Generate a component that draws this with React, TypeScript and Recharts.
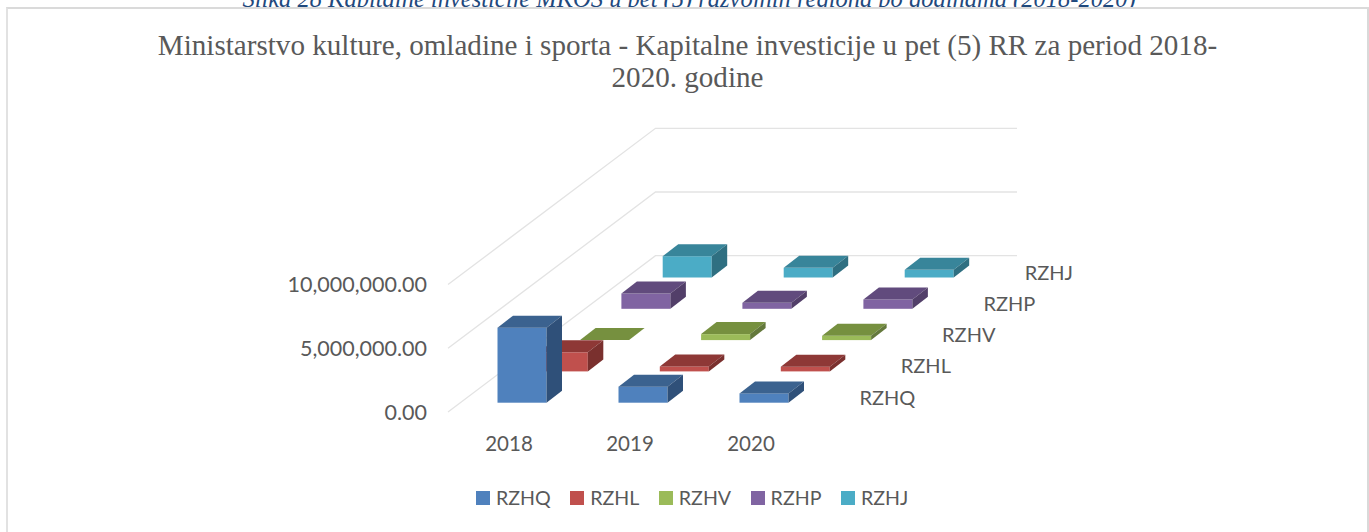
import { BarChart, Bar, XAxis, YAxis, CartesianGrid, Legend } from 'recharts';

const years = ['2018', '2019', '2020'];
const seriesNames = ['RZHQ', 'RZHL', 'RZHV', 'RZHP', 'RZHJ'];
const rzhq = [5890000, 1260000, 730000];
const rzhl = [1500000, 390000, 370000];
const rzhv = [0, 470000, 340000];
const rzhp = [1200000, 470000, 730000];
const rzhj = [1670000, 760000, 600000];
const valueTicks = [0, 5000000, 10000000];

const seriesValues = [rzhq, rzhl, rzhv, rzhp, rzhj];
const frontColors = ['#4F81BD', '#C0504D', '#9BBB59', '#8064A2', '#4BACC6'];
const topColors = ['#3B628F', '#8E3836', '#76903F', '#614B7D', '#38859A'];
const sideColors = ['#2F5079', '#7A302E', '#64793C', '#523F69', '#2F6F81'];

const chartData = years.map((year, i) => {
  const row: Record<string, string | number> = { year };
  seriesNames.forEach((name, s) => {
    row[name] = seriesValues[s][i];
  });
  return row;
});

const FONT = 'Lato, sans-serif';
const TEXT_COLOR = '#595959';
const BAR_W = 49;
// depth step between series, and depth of one box
const STEP_X = 41.3;
const STEP_Y = 31.3;
const DEPTH_X = 15.5;
const DEPTH_Y = 12;

function Box(props: any, s: number) {
  const { x, y, width, height, index } = props;
  const left = x + STEP_X * s;
  const top = y - STEP_Y * s;
  const right = left + width;
  const bottom = top + height;
  return (
    <g>
      {height > 0 && <rect x={left} y={top} width={width} height={height} fill={frontColors[s]} />}
      <polygon
        points={`${left},${top} ${left + DEPTH_X},${top - DEPTH_Y} ${right + DEPTH_X},${top - DEPTH_Y} ${right},${top}`}
        fill={topColors[s]}
      />
      <polygon
        points={`${right},${top} ${right + DEPTH_X},${top - DEPTH_Y} ${right + DEPTH_X},${bottom - DEPTH_Y} ${right},${bottom}`}
        fill={sideColors[s]}
      />
      {index === years.length - 1 && (
        <text x={left + 120} y={bottom - 5} dy={7} fontFamily={FONT} fontSize={20} fill={TEXT_COLOR}>
          {seriesNames[s]}
        </text>
      )}
    </g>
  );
}

function wallLine(props: any) {
  const { y1, key } = props;
  return (
    <polyline
      key={key}
      points={`448,${y1 + 9.3} 655.5,${y1 - 147} 1017,${y1 - 147}`}
      fill="none"
      stroke="#E3E3E3"
      strokeWidth={1.3}
    />
  );
}

function ValueTick(props: any) {
  const { y, payload } = props;
  const label = payload.value.toLocaleString('en-US', { minimumFractionDigits: 2 });
  return (
    <text x={427} y={y + 9.3} dy={7.5} textAnchor="end" fontFamily={FONT} fontSize={21.5} fill={TEXT_COLOR}>
      {label}
    </text>
  );
}

function YearTick(props: any) {
  const { x, y, payload } = props;
  return (
    <text x={x - 13} y={y} dy={7} textAnchor="middle" fontFamily={FONT} fontSize={20.5} fill={TEXT_COLOR}>
      {payload.value}
    </text>
  );
}

function LegendRow() {
  return (
    <div style={{ display: 'flex', fontFamily: FONT, fontSize: 19.6, color: TEXT_COLOR, lineHeight: '24px' }}>
      {seriesNames.map((name, s) => (
        <div key={name} style={{ display: 'flex', alignItems: 'center', marginRight: 19.5 }}>
          <span style={{ width: 14, height: 14, background: frontColors[s], marginRight: 6 }} />
          {name}
        </div>
      ))}
    </div>
  );
}

export default function App() {
  return (
    <div style={{ position: 'absolute', left: 0, top: 0, width: 1369, height: 532, background: '#fff', overflow: 'hidden' }}>
      <div
        style={{
          position: 'absolute',
          left: 0,
          width: 1378,
          top: -15,
          textAlign: 'center',
          fontFamily: '"Liberation Serif", serif',
          fontStyle: 'italic',
          fontSize: 24.5,
          color: '#1F497D',
          whiteSpace: 'nowrap',
        }}
      >
        Slika 28 Kapitalne investicije MKOS u pet (5) razvojnih regiona po godinama (2018-2020)
      </div>
      <div
        style={{
          position: 'absolute',
          left: 6,
          top: 7,
          width: 1359,
          height: 540,
          borderTop: '2px solid #DADADA',
          borderLeft: '2px solid #E2E2E2',
          borderRight: '2px solid #D9D9D9',
          background: '#fff',
        }}
      />
      <div
        style={{
          position: 'absolute',
          left: 0,
          width: 1375,
          top: 29,
          textAlign: 'center',
          fontFamily: '"Liberation Serif", serif',
          fontSize: 29.1,
          lineHeight: '32px',
          color: TEXT_COLOR,
        }}
      >
        Ministarstvo kulture, omladine i sporta - Kapitalne investicije u pet (5) RR za period 2018-
        <br />
        2020. godine
      </div>
      <BarChart
        width={1369}
        height={532}
        data={chartData}
        barSize={BAR_W}
        barGap={-BAR_W}
        margin={{ top: 275.3, right: 544.5, bottom: 45.3, left: 0 }}
        style={{ position: 'absolute', left: 0, top: 0 }}
      >
        <CartesianGrid horizontal={wallLine} vertical={false} />
        <XAxis
          dataKey="year"
          axisLine={false}
          tickLine={false}
          tickSize={0}
          height={60}
          tick={YearTick}
          tickMargin={41}
        />
        <YAxis
          width={461.5}
          domain={[0, 10000000]}
          ticks={valueTicks}
          axisLine={false}
          tickLine={false}
          tick={ValueTick}
        />
        <Legend
          content={<LegendRow />}
          wrapperStyle={{ left: 476, top: 486, width: 500, bottom: 'auto', right: 'auto' }}
        />
        {seriesNames
          .map((name, s) => (
            <Bar
              key={name}
              dataKey={name}
              isAnimationActive={false}
              fill={frontColors[s]}
              shape={(props: any) => Box(props, s)}
            />
          ))
          .reverse()}
      </BarChart>
    </div>
  );
}
